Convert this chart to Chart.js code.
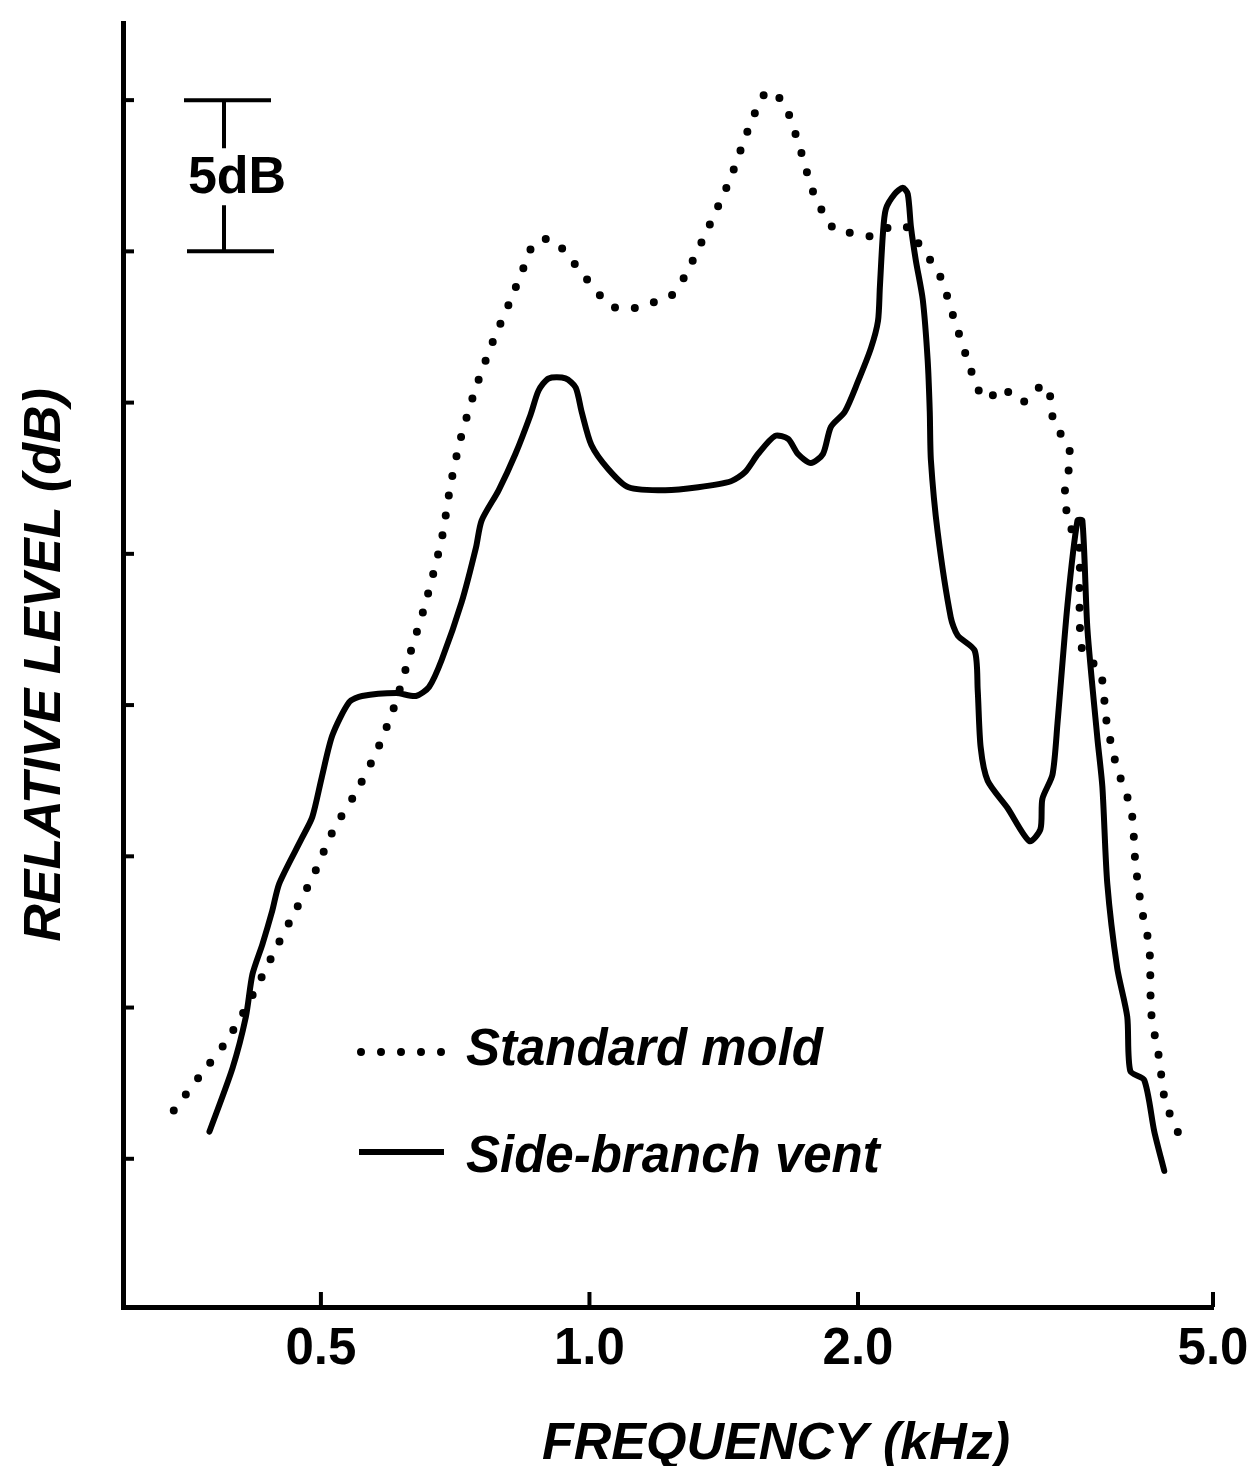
<!DOCTYPE html>
<html>
<head>
<meta charset="utf-8">
<title>Relative level vs frequency</title>
<script src="https://cdn.jsdelivr.net/npm/chart.js@4.4.1/dist/chart.umd.min.js"></script>
<style>
    html, body { margin: 0; padding: 0; background: #ffffff; }
    canvas { display: block; }
</style>
</head>
<body>
<canvas id="levelChart" width="1253" height="1466"></canvas>
<script>
// Datos (frecuencia en kHz, nivel relativo en dB)
var freqStandard = [0.342, 0.365, 0.390, 0.407, 0.424, 0.446, 0.470, 0.491, 0.517, 0.547,
    0.578, 0.605, 0.631, 0.654, 0.683, 0.699, 0.717, 0.746, 0.779, 0.816,
    0.850, 0.868, 0.907, 0.938, 0.992, 1.056, 1.111, 1.176, 1.232, 1.280,
    1.355, 1.438, 1.510, 1.582, 1.652, 1.722, 1.785, 1.884, 1.979, 2.073,
    2.171, 2.268, 2.333, 2.470, 2.561, 2.654, 2.731, 2.795, 2.897, 3.050,
    3.228, 3.279, 3.321, 3.417, 3.461, 3.408, 3.461, 3.542, 3.542, 3.569,
    3.738, 3.797, 3.896, 4.050, 4.092, 4.156, 4.242, 4.264, 4.352, 4.420, 4.594];
var levelStandard = [6.6, 7.7, 8.8, 9.7, 10.7, 12.0, 13.3, 14.4, 15.9, 17.1,
    18.5, 20.0, 21.8, 23.3, 25.5, 27.3, 28.8, 30.5, 32.0, 33.4,
    34.7, 35.3, 35.4, 35.0, 34.1, 33.2, 33.1, 33.3, 33.5, 34.2,
    35.7, 37.4, 39.1, 40.3, 39.9, 38.4, 36.9, 35.7, 35.6, 35.5,
    35.8, 35.8, 35.3, 34.2, 32.8, 31.4, 30.4, 30.1, 30.5, 30.0,
    30.6, 30.3, 29.2, 28.8, 28.2, 26.9, 25.9, 25.2, 23.8, 21.8,
    21.1, 19.5, 18.0, 16.5, 14.8, 13.3, 12.0, 9.8, 8.3, 6.9, 5.7];

var freqVent = [0.375, 0.398, 0.412, 0.419, 0.430, 0.441, 0.449, 0.476, 0.489, 0.501,
    0.515, 0.538, 0.556, 0.607, 0.639, 0.661, 0.683, 0.719, 0.746, 0.757,
    0.791, 0.826, 0.859, 0.877, 0.900, 0.940, 0.965, 0.980, 1.005, 1.050,
    1.106, 1.216, 1.324, 1.441, 1.494, 1.545, 1.615, 1.670, 1.713, 1.771,
    1.827, 1.865, 1.933, 2.000, 2.068, 2.106, 2.116, 2.133, 2.149, 2.199,
    2.245, 2.274, 2.293, 2.322, 2.364, 2.394, 2.407, 2.414, 2.457, 2.541,
    2.587, 2.703, 2.724, 2.745, 2.795, 2.942, 3.114, 3.203, 3.219, 3.304,
    3.347, 3.434, 3.524, 3.569, 3.616, 3.710, 3.758, 3.806, 3.905, 4.007,
    4.039, 4.187, 4.297, 4.409];
var levelVent = [5.9, 8.0, 9.7, 11.1, 12.1, 13.2, 14.1, 15.6, 16.3, 17.6,
    19.0, 20.1, 20.3, 20.4, 20.3, 20.6, 21.5, 23.4, 25.2, 26.1,
    27.1, 28.3, 29.6, 30.4, 30.8, 30.8, 30.5, 29.7, 28.6, 27.8,
    27.2, 27.1, 27.2, 27.4, 27.7, 28.3, 28.9, 28.8, 28.3, 28.0,
    28.3, 29.2, 29.7, 30.7, 31.8, 32.7, 33.8, 35.6, 36.4, 36.9,
    37.1, 36.9, 35.8, 34.7, 33.4, 31.4, 29.7, 28.1, 25.7, 22.9,
    22.3, 21.8, 20.5, 18.6, 17.5, 16.6, 15.5, 15.9, 16.9, 17.7,
    19.4, 23.3, 26.1, 26.1, 22.5, 18.9, 17.3, 14.1, 11.3, 9.7,
    7.9, 7.6, 5.9, 4.6];

var xTickValues = [0.5, 1.0, 2.0, 5.0];
var yTickValues = [5, 10, 15, 20, 25, 30, 35, 40];
var scaleBarLevels = [35, 40];   // barra de 5 dB
var scaleBarText = '5dB';
var xTitle = 'FREQUENCY (kHz)';
var yTitle = 'RELATIVE LEVEL (dB)';

var fontFamily = "'Liberation Sans', Helvetica, Arial, sans-serif";
var dotDash = [0, 20];

function toPoints(xs, ys) {
    return xs.map(function (x, i) { return { x: x, y: ys[i] }; });
}

// Marcas hacia dentro, barra de escala, leyenda y titulo del eje x
var decorations = {
    id: 'decorations',
    afterDraw: function (chart) {
        var ctx = chart.ctx;
        var area = chart.chartArea;
        var xs = chart.scales.x;
        var ys = chart.scales.y;

        ctx.save();
        ctx.strokeStyle = '#000';
        ctx.fillStyle = '#000';
        ctx.lineCap = 'butt';

        // ticks del eje y (apuntan a la derecha)
        ctx.lineWidth = 4;
        ys.ticks.forEach(function (t) {
            var py = ys.getPixelForValue(t.value);
            ctx.beginPath();
            ctx.moveTo(area.left, py);
            ctx.lineTo(area.left + 11, py);
            ctx.stroke();
        });
        // ticks del eje x (apuntan hacia arriba)
        xs.ticks.forEach(function (t) {
            var px = xs.getPixelForValue(t.value);
            ctx.beginPath();
            ctx.moveTo(px, area.bottom);
            ctx.lineTo(px, area.bottom - 15);
            ctx.stroke();
        });

        // barra de escala 5 dB
        var yTop = ys.getPixelForValue(scaleBarLevels[1]);
        var yBot = ys.getPixelForValue(scaleBarLevels[0]);
        var bx0 = area.left + 61, bx1 = area.left + 148, bxm = area.left + 101;
        ctx.lineWidth = 4;
        ctx.beginPath();
        ctx.moveTo(bx0, yTop); ctx.lineTo(bx1, yTop);
        ctx.moveTo(bx0 + 3, yBot); ctx.lineTo(bx1 + 3, yBot);
        ctx.moveTo(bxm, yTop); ctx.lineTo(bxm, yTop + 48);
        ctx.moveTo(bxm, yBot - 46); ctx.lineTo(bxm, yBot);
        ctx.stroke();
        ctx.font = 'bold 52px ' + fontFamily;
        ctx.textAlign = 'center';
        ctx.textBaseline = 'alphabetic';
        ctx.fillText(scaleBarText, area.left + 114, yTop + 93);

        // leyenda
        var ds = chart.data.datasets;
        var lx0 = area.left + 238, lx1 = area.left + 318;
        var ly1 = area.bottom - 255, ly2 = area.bottom - 155;
        ctx.save();
        ctx.lineWidth = ds[0].borderWidth;
        ctx.lineCap = 'round';
        ctx.setLineDash(dotDash);
        ctx.beginPath();
        ctx.moveTo(lx0, ly1); ctx.lineTo(lx0 + 4 * dotDash[1] + 1, ly1);
        ctx.stroke();
        ctx.restore();
        ctx.lineWidth = ds[1].borderWidth;
        ctx.beginPath();
        ctx.moveTo(lx0 - 2, ly2); ctx.lineTo(lx1 + 3, ly2);
        ctx.stroke();
        ctx.font = 'italic bold 51px ' + fontFamily;
        ctx.textAlign = 'left';
        ctx.fillText(ds[0].label, area.left + 343, ly1 + 13);
        ctx.fillText(ds[1].label, area.left + 343, ly2 + 20);

        // titulo eje x
        ctx.font = 'italic bold 52px ' + fontFamily;
        ctx.textAlign = 'center';
        ctx.fillText(xTitle, 776, area.bottom + 152);
        ctx.restore();
    }
};

var ctx1 = document.getElementById('levelChart').getContext('2d');
var levelChart = new Chart(ctx1, {
    type: 'line',
    data: {
        datasets: [{
            label: 'Standard mold',
            data: toPoints(freqStandard, levelStandard),
            borderColor: '#000',
            borderWidth: 8,
            borderDash: dotDash,
            borderCapStyle: 'round',
            pointRadius: 0,
            tension: 0.25,
            fill: false
        },
        {
            label: 'Side-branch vent',
            data: toPoints(freqVent, levelVent),
            borderColor: '#000',
            borderWidth: 6,
            borderCapStyle: 'round',
            borderJoinStyle: 'round',
            pointRadius: 0,
            tension: 0.25,
            fill: false
        }]
    },
    options: {
        responsive: false,
        animation: false,
        devicePixelRatio: 1,
        layout: {
            padding: { top: 23, right: 40, left: 0, bottom: 0 }
        },
        scales: {
            x: {
                type: 'logarithmic',
                min: 0.3,
                max: 5,
                offset: false,
                afterBuildTicks: function (scale) {
                    scale.ticks = xTickValues.map(function (v) { return { value: v }; });
                },
                afterFit: function (scale) {
                    scale.height = 159;
                    scale.paddingLeft = 0;
                    scale.paddingRight = 0;
                },
                ticks: {
                    color: '#000',
                    padding: 12,
                    maxRotation: 0,
                    autoSkip: false,
                    font: { family: fontFamily, size: 51, weight: 'bold' },
                    callback: function (value) { return Number(value).toFixed(1); }
                },
                grid: { display: false, drawTicks: false },
                border: { display: true, width: 5, color: '#000' }
            },
            y: {
                type: 'linear',
                min: 0.1,
                max: 42.55,
                afterBuildTicks: function (scale) {
                    scale.ticks = yTickValues.map(function (v) { return { value: v }; });
                },
                afterFit: function (scale) {
                    scale.width = 123;
                },
                ticks: { display: false },
                grid: { display: false, drawTicks: false },
                border: { display: true, width: 5, color: '#000' },
                title: {
                    display: true,
                    text: yTitle,
                    color: '#000',
                    font: { family: fontFamily, size: 52, weight: 'bold', style: 'italic' },
                    padding: { top: 14, bottom: 0 }
                }
            }
        },
        plugins: {
            legend: { display: false },
            tooltip: { enabled: false }
        }
    },
    plugins: [decorations]
});
</script>
</body>
</html>
